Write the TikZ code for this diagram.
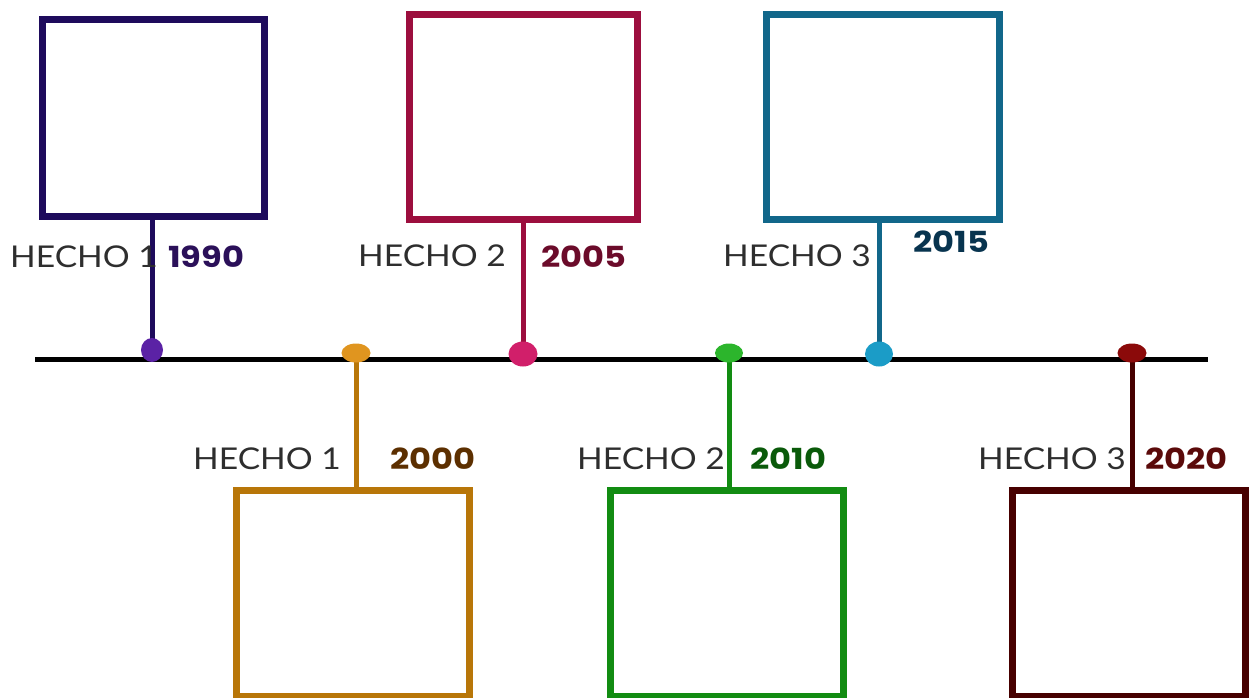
\documentclass[tikz,border=0pt]{standalone}
\usepackage{graphicx}
\usepackage{fontspec}
\setmainfont{Lato}
\newfontfamily\yearfont{Poppins}
\usetikzlibrary{shapes.geometric}
\pgfdeclarelayer{bg}
\pgfsetlayers{bg,main}
\newcommand\hwide[1]{\scalebox{1.12}[1]{#1}}
\newcommand\ywide[1]{\scalebox{1.16}[1]{#1}}
\definecolor{boxA}{HTML}{1E0B5C}\definecolor{dotA}{HTML}{5B22A5}\definecolor{yearA}{HTML}{2B1059}
\definecolor{boxB}{HTML}{9C0E3E}\definecolor{dotB}{HTML}{D11F6A}\definecolor{yearB}{HTML}{6B0B2A}
\definecolor{boxC}{HTML}{11678A}\definecolor{dotC}{HTML}{1B9CC7}\definecolor{yearC}{HTML}{08344F}
\definecolor{boxD}{HTML}{B87608}\definecolor{dotD}{HTML}{E0951F}\definecolor{yearD}{HTML}{5C2F00}
\definecolor{boxE}{HTML}{128C12}\definecolor{dotE}{HTML}{2CB52C}\definecolor{yearE}{HTML}{0A5A0A}
\definecolor{boxF}{HTML}{470000}\definecolor{dotF}{HTML}{8B0A0A}\definecolor{yearF}{HTML}{5B0A0A}
\definecolor{hechogray}{HTML}{2E2E2E}
\begin{document}
\begin{tikzpicture}[x=1pt,y=-1pt,
  frame/.style={draw=#1, rectangle, line width=7pt, inner sep=0pt, fill=white},
  pin/.style={ellipse, fill=#1, inner sep=0pt},
  conn/.style={draw=#1, line width=5pt},
  hecho/.style={anchor=base west, inner sep=0pt, text=hechogray, font=\fontsize{30}{36}\selectfont},
  year/.style={anchor=base west, inner sep=0pt, text=#1, font=\yearfont\bfseries\fontsize{29}{34}\selectfont}]
\useasboundingbox (0,0) rectangle (1250,697);
% boxes
\node[frame=boxA, minimum width=222.5pt, minimum height=197pt] (box1) at (153.25,117.5) {};
\node[frame=boxB, minimum width=228pt, minimum height=205pt] (box2) at (523.5,116.5) {};
\node[frame=boxC, minimum width=233pt, minimum height=205pt] (box3) at (883,116.5) {};
\node[frame=boxD, minimum width=233pt, minimum height=206pt] (box4) at (353,593) {};
\node[frame=boxE, minimum width=233.5pt, minimum height=206pt] (box5) at (726.75,593) {};
\node[frame=boxF, minimum width=233pt, minimum height=206pt] (box6) at (1129,593) {};
% pins
\node[pin=dotA, minimum width=22pt, minimum height=24pt] (d1) at (152,350) {};
\node[pin=dotD, minimum width=29pt, minimum height=19pt] (d4) at (356,353) {};
\node[pin=dotB, minimum width=29pt, minimum height=25pt] (d2) at (523,354) {};
\node[pin=dotE, minimum width=28pt, minimum height=19pt] (d5) at (729,353) {};
\node[pin=dotC, minimum width=28pt, minimum height=25pt] (d3) at (879,354) {};
\node[pin=dotF, minimum width=29pt, minimum height=19pt] (d6) at (1132,353) {};
% main line and connectors (behind the pins)
\coordinate (ls) at (35,359.5);
\coordinate (le) at (1208,359.5);
\begin{pgfonlayer}{bg}
\draw[line width=5pt, black] (ls) -- (le);
\draw[conn=boxA] (d1.center |- box1.south) -- (d1.center);
\draw[conn=boxB] (d2.center |- box2.south) -- (d2.center);
\draw[conn=boxC] (d3.center |- box3.south) -- (d3.center);
\draw[conn=boxD] (d4.center) -- (d4.center |- box4.north);
\draw[conn=boxE] (d5.center) -- (d5.center |- box5.north);
\draw[conn=boxF] (d6.center) -- (d6.center |- box6.north);
\end{pgfonlayer}
% labels
\node[hecho] (h1) at (10,267) {\hwide{HECHO 1}};
\node[year=yearA] (y1) at (168,267) {\ywide{1990}};
\node[hecho] (h2) at (358,266) {\hwide{HECHO 2}};
\node[year=yearB] (y2) at (541,267) {\ywide{2005}};
\node[hecho] (h3) at (723,266) {\hwide{HECHO 3}};
\node[year=yearC] (y3) at (913,252) {\ywide{2015}};
\node[hecho] (h4) at (193,469) {\hwide{HECHO 1}};
\node[year=yearD] (y4) at (390,469) {\ywide{2000}};
\node[hecho] (h5) at (577,469) {\hwide{HECHO 2}};
\node[year=yearE] (y5) at (750,469) {\ywide{2010}};
\node[hecho] (h6) at (978,469) {\hwide{HECHO 3}};
\node[year=yearF] (y6) at (1145,469) {\ywide{2020}};
\end{tikzpicture}
\end{document}
